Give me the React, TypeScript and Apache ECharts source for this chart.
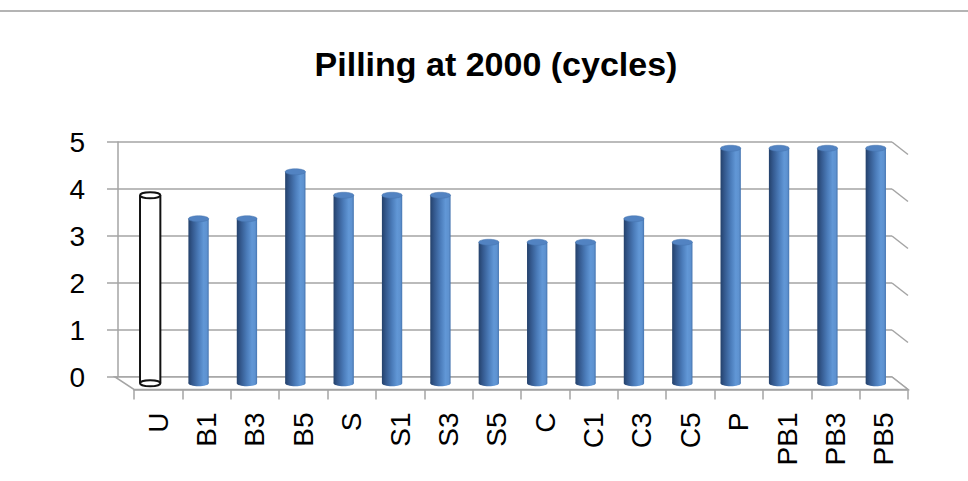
import React, { useEffect, useRef } from "react";
import * as echarts from "echarts";

const categories = ["U", "B1", "B3", "B5", "S", "S1", "S3", "S5", "C", "C1", "C3", "C5", "P", "PB1", "PB3", "PB5"];
const values = [4, 3.5, 3.5, 4.5, 4, 4, 4, 3, 3, 3, 3.5, 3, 5, 5, 5, 5];
const yTicks = [0, 1, 2, 3, 4, 5];
const titleText = "Pilling at 2000 (cycles)";
const outlinedCategory = "U";

const GRID_COLOR = "#a4a4a4";
const DEPTH_X = 16;
const DEPTH_Y = 12.5;

export default function App() {
  const ref = useRef<HTMLDivElement>(null);

  useEffect(() => {
    document.body.style.margin = "0";
    if (!ref.current) return;
    const chart = echarts.init(ref.current, null, { renderer: "svg" });

    const barGradient = new echarts.graphic.LinearGradient(0, 0, 1, 0, [
      { offset: 0, color: "#24416b" },
      { offset: 0.2, color: "#34598e" },
      { offset: 0.5, color: "#4b7cba" },
      { offset: 0.75, color: "#6197d6" },
      { offset: 0.9, color: "#5e92d0" },
      { offset: 1, color: "#4675b0" },
    ]);

    const option: any = {
      animation: false,
      backgroundColor: "#ffffff",
      title: {
        text: titleText,
        left: 491,
        top: 42,
        textAlign: "center",
        textStyle: { fontFamily: "Liberation Sans", fontWeight: "bold", fontSize: 34, color: "#000" },
      },
      graphic: [
        {
          type: "line",
          shape: { x1: 0, y1: 11, x2: 968, y2: 11 },
          style: { stroke: "#b4b4b4", lineWidth: 2 },
          silent: true,
        },
      ],
      grid: [
        { left: 118, top: 142, width: 774, height: 235 },
        { left: 126, top: 148.25, width: 774, height: 235 },
        { left: 134, top: 154.5, width: 774, height: 235 },
      ],
      xAxis: [
        { gridIndex: 0, type: "value", min: 0, max: categories.length, show: false },
        { gridIndex: 1, type: "category", data: categories, show: false, boundaryGap: true },
        {
          gridIndex: 2,
          type: "category",
          data: categories,
          boundaryGap: true,
          axisLine: { show: true, lineStyle: { color: GRID_COLOR, width: 1.5 } },
          axisTick: { show: true, length: 10, lineStyle: { color: GRID_COLOR, width: 1.5 } },
          axisLabel: {
            rotate: 90,
            margin: 23,
            interval: 0,
            fontFamily: "Liberation Sans",
            fontSize: 28,
            color: "#000",
          },
        },
      ],
      yAxis: [
        {
          gridIndex: 0,
          type: "value",
          min: 0,
          max: 5,
          interval: 1,
          axisLine: { show: true, lineStyle: { color: GRID_COLOR, width: 1.5 } },
          axisTick: { show: true, length: 11, lineStyle: { color: GRID_COLOR, width: 1.5 } },
          splitLine: { show: true, lineStyle: { color: GRID_COLOR, width: 1.5 } },
          axisLabel: { margin: 33, fontFamily: "Liberation Sans", fontSize: 28, color: "#000" },
        },
        { gridIndex: 1, type: "value", min: 0, max: 5, show: false },
        { gridIndex: 2, type: "value", min: 0, max: 5, show: false },
      ],
      series: [
        {
          type: "custom",
          name: "wall",
          xAxisIndex: 0,
          yAxisIndex: 0,
          silent: true,
          z: 1,
          data: yTicks.map((t) => [t]),
          renderItem: (params: any, api: any) => {
            const v = api.value(0);
            const p = api.coord([categories.length, v]);
            const children: any[] = [
              {
                type: "line",
                shape: { x1: p[0], y1: p[1], x2: p[0] + DEPTH_X, y2: p[1] + DEPTH_Y },
                style: { stroke: GRID_COLOR, lineWidth: 1.5 },
              },
            ];
            if (v === 0) {
              const l = api.coord([0, 0]);
              children.push({
                type: "polygon",
                shape: {
                  points: [
                    [l[0] - 3, l[1]],
                    [p[0], p[1]],
                    [p[0] + DEPTH_X, p[1] + DEPTH_Y],
                    [l[0] + DEPTH_X, l[1] + DEPTH_Y],
                  ],
                },
                style: { fill: "#ffffff", stroke: GRID_COLOR, lineWidth: 1.5 },
              });
            }
            return { type: "group", children };
          },
        },
        {
          type: "custom",
          name: "Pilling",
          xAxisIndex: 1,
          yAxisIndex: 1,
          z: 3,
          data: values.map((v, i) => [i, v]),
          renderItem: (params: any, api: any) => {
            const i = api.value(0);
            const v = api.value(1);
            const top = api.coord([i, v]);
            const bot = api.coord([i, 0]);
            const w = api.size([1, 0])[0] * 0.42;
            const rx = w / 2;
            const ry = 3;
            const xl = top[0] - rx;
            if (categories[i] === outlinedCategory) {
              return {
                type: "group",
                children: [
                  {
                    type: "rect",
                    shape: { x: xl, y: top[1], width: w, height: bot[1] - top[1] },
                    style: { fill: "#ffffff" },
                  },
                  {
                    type: "line",
                    shape: { x1: xl, y1: top[1], x2: xl, y2: bot[1] },
                    style: { stroke: "#111", lineWidth: 2 },
                  },
                  {
                    type: "line",
                    shape: { x1: xl + w, y1: top[1], x2: xl + w, y2: bot[1] },
                    style: { stroke: "#111", lineWidth: 2 },
                  },
                  {
                    type: "ellipse",
                    shape: { cx: top[0], cy: bot[1], rx, ry },
                    style: { fill: "#ffffff", stroke: "#111", lineWidth: 2 },
                  },
                  {
                    type: "ellipse",
                    shape: { cx: top[0], cy: top[1], rx, ry },
                    style: { fill: "#ffffff", stroke: "#111", lineWidth: 2 },
                  },
                ],
              };
            }
            return {
              type: "group",
              children: [
                {
                  type: "ellipse",
                  shape: { cx: top[0], cy: bot[1], rx, ry },
                  style: { fill: barGradient },
                },
                {
                  type: "rect",
                  shape: { x: xl, y: top[1], width: w, height: bot[1] - top[1] },
                  style: { fill: barGradient },
                },
                {
                  type: "ellipse",
                  shape: { cx: top[0], cy: top[1], rx, ry },
                  style: { fill: "#5283c2", stroke: "#4572ad", lineWidth: 0.5 },
                },
              ],
            };
          },
        },
      ],
    };

    chart.setOption(option);
    return () => chart.dispose();
  }, []);

  return <div ref={ref} style={{ position: "absolute", left: 0, top: 0, width: 968, height: 481 }} />;
}
